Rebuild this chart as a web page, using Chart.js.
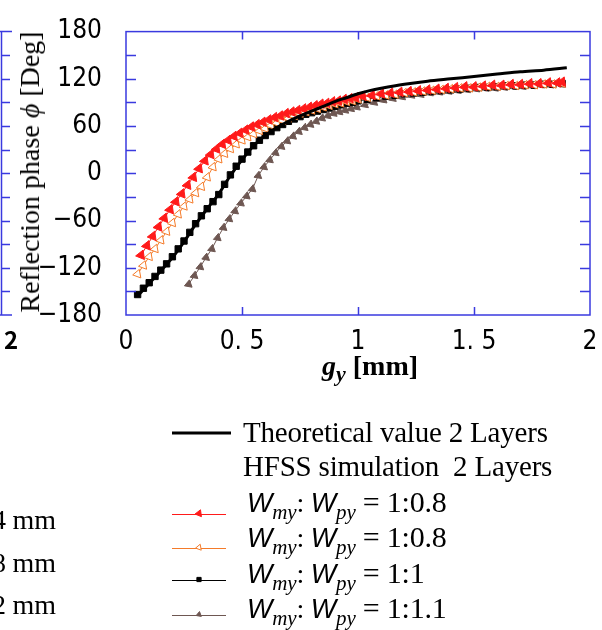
<!DOCTYPE html>
<html>
<head>
<meta charset="utf-8">
<script src="https://cdn.jsdelivr.net/npm/chart.js@4/dist/chart.umd.min.js"></script>
<style>
  body { margin: 0; width: 602px; height: 630px; position: relative; overflow: hidden; background: #fff; }
  #c { position: absolute; left: 0; top: 0; }
  .t { position: absolute; white-space: nowrap; font-family: "Liberation Serif", serif; color: #000; }
  .leg { font-size: 28px; line-height: 32px; letter-spacing: -0.2px; }
  .big { font-size: 29px; }
  .w { font-family: "Liberation Sans", sans-serif; font-style: italic; font-size: 27px; }
  .sb { font-style: italic; font-size: 21px; position: relative; top: 7px; }
  .eq { font-size: 30px; }
</style>
</head>
<body>
<canvas id="c" width="602" height="630"></canvas>

<div class="t" style="left:30px;top:172px;font-size:28px;transform:translate(-50%,-50%) rotate(-90deg);">Reflection phase <i>ϕ</i> [Deg]</div>
<div class="t" style="left:370px;top:366px;font-size:28px;font-weight:bold;transform:translate(-50%,-50%);"><i>g</i><span class="sb" style="font-weight:bold;top:6px;font-size:22px;">y</span> [mm]</div>

<div class="t leg big" style="left:243px;top:416px;">Theoretical value 2 Layers</div>
<div class="t leg big" style="left:243px;top:450px;">HFSS simulation&nbsp; 2 Layers</div>
<div class="t leg" style="left:247px;top:486px;"><span class="w">W</span><span class="sb">my</span>: <span class="w">W</span><span class="sb">py</span><span class="eq"> = 1:0.8</span></div>
<div class="t leg" style="left:247px;top:521px;"><span class="w">W</span><span class="sb">my</span>: <span class="w">W</span><span class="sb">py</span><span class="eq"> = 1:0.8</span></div>
<div class="t leg" style="left:247px;top:557px;"><span class="w">W</span><span class="sb">my</span>: <span class="w">W</span><span class="sb">py</span><span class="eq"> = 1:1</span></div>
<div class="t leg" style="left:247px;top:592px;"><span class="w">W</span><span class="sb">my</span>: <span class="w">W</span><span class="sb">py</span><span class="eq"> = 1:1.1</span></div>

<div class="t leg" style="left:-8px;top:504px;">4 mm</div>
<div class="t leg" style="left:-8px;top:547px;">8 mm</div>
<div class="t leg" style="left:-8px;top:589px;">2 mm</div>
<div class="t" style="left:4px;top:324px;font-family:'Noto Sans CJK JP',sans-serif;font-weight:bold;font-size:24px;line-height:30px;">2</div>

<script>
// theoretical value, 2 layers
const gyTheory = [0.05, 0.1, 0.15, 0.2, 0.25, 0.3, 0.35, 0.4, 0.45, 0.5, 0.55, 0.6, 0.65, 0.7, 0.75, 0.8, 0.85, 0.9, 0.95, 1.0, 1.05, 1.1, 1.2, 1.3, 1.4, 1.5, 1.6, 1.7, 1.8, 1.9];
const phaseTheory = [-156, -140, -124, -107, -87, -65, -45, -26, -3, 17, 35, 48, 58, 66, 73, 79, 85, 91, 96, 101, 105, 108, 113, 117, 120, 123, 126, 129, 131, 134];

// HFSS 1:0.8 (red, filled triangles)
const gyRed = [0.065, 0.09, 0.115, 0.14, 0.165, 0.19, 0.215, 0.24, 0.265, 0.29, 0.315, 0.34, 0.365, 0.39, 0.415, 0.44, 0.465, 0.49, 0.515, 0.54, 0.565, 0.59, 0.615, 0.64, 0.665, 0.69, 0.715, 0.74, 0.765, 0.79, 0.815, 0.84, 0.865, 0.89, 0.915, 0.94, 0.965, 0.99, 1.02, 1.06, 1.1, 1.14, 1.18, 1.22, 1.26, 1.3, 1.34, 1.38, 1.42, 1.46, 1.5, 1.54, 1.58, 1.62, 1.66, 1.7, 1.74, 1.78, 1.82, 1.86, 1.88];
const phaseRed = [-104, -92, -80, -68, -57, -46, -36, -26, -15, -5, 6, 16, 24, 31, 37, 42, 47, 51, 55, 59, 62, 65, 68, 71, 73, 76, 78, 80, 82, 84, 86, 88, 89, 91, 92, 94, 95, 96, 98, 99, 101, 102, 103, 104, 105, 106, 107, 108, 109, 110, 110, 111, 112, 112, 113, 113, 114, 114, 115, 115, 116];

// HFSS 1:0.8 (orange, open triangles)
const gyOrange = [0.05, 0.075, 0.1, 0.125, 0.15, 0.175, 0.2, 0.225, 0.25, 0.275, 0.3, 0.325, 0.35, 0.375, 0.4, 0.425, 0.45, 0.475, 0.5, 0.525, 0.55, 0.575, 0.6, 0.625, 0.65, 0.675, 0.7, 0.725, 0.75, 0.775, 0.8, 0.825, 0.85, 0.875, 0.9, 0.925, 0.95, 0.975, 1.0, 1.04, 1.08, 1.12, 1.16, 1.2, 1.24, 1.28, 1.32, 1.36, 1.4, 1.44, 1.48, 1.52, 1.56, 1.6, 1.64, 1.68, 1.72, 1.76, 1.8, 1.84, 1.88];
const phaseOrange = [-128, -117, -106, -96, -85, -74, -63, -52, -42, -33, -25, -17, -5, 8, 18, 25, 31, 37, 42, 46, 50, 54, 57, 61, 64, 67, 70, 73, 76, 78, 80, 82, 84, 86, 88, 89, 91, 92, 94, 96, 98, 99, 100, 102, 103, 104, 105, 106, 107, 108, 108, 109, 110, 110, 111, 111, 112, 112, 113, 113, 114];

// HFSS 1:1 (black squares)
const gyBlack = [0.05, 0.075, 0.1, 0.125, 0.15, 0.175, 0.2, 0.225, 0.25, 0.275, 0.3, 0.325, 0.35, 0.375, 0.4, 0.425, 0.45, 0.475, 0.5, 0.525, 0.55, 0.575, 0.6, 0.625, 0.65, 0.675, 0.7, 0.725, 0.75, 0.775, 0.8, 0.825, 0.85, 0.875, 0.9, 0.925, 0.95, 0.975, 1.0, 1.04, 1.08, 1.12, 1.16, 1.2, 1.24, 1.28, 1.32, 1.36, 1.4, 1.44, 1.48, 1.52, 1.56, 1.6, 1.64, 1.68, 1.72, 1.76, 1.8, 1.84, 1.88];
const phaseBlack = [-154, -146, -139, -131, -123, -115, -106, -96, -86, -75, -64, -54, -45, -36, -27, -14, -2, 9, 18, 27, 35, 42, 48, 53, 58, 62, 66, 69, 72, 75, 77, 79, 81, 83, 85, 87, 89, 90, 92, 94, 96, 98, 99, 101, 102, 103, 104, 105, 106, 107, 108, 109, 109, 110, 111, 111, 112, 112, 113, 113, 114];

// HFSS 1:1.1 (brown triangles)
const gyBrown = [0.27, 0.295, 0.32, 0.345, 0.37, 0.395, 0.42, 0.445, 0.47, 0.495, 0.52, 0.545, 0.57, 0.595, 0.62, 0.645, 0.67, 0.695, 0.72, 0.745, 0.77, 0.795, 0.82, 0.845, 0.87, 0.895, 0.92, 0.945, 0.97, 0.995, 1.03, 1.07, 1.11, 1.15, 1.19, 1.23, 1.27, 1.31, 1.35, 1.39, 1.43, 1.47, 1.51, 1.55, 1.59, 1.63, 1.67, 1.71, 1.75, 1.79, 1.83, 1.88];
const phaseBrown = [-141, -130, -119, -107, -96, -82, -69, -58, -48, -38, -29, -20, -3, 8, 17, 26, 34, 41, 47, 53, 58, 62, 66, 70, 73, 76, 78, 80, 82, 84, 87, 90, 93, 95, 97, 99, 100, 102, 103, 104, 105, 106, 107, 108, 108, 109, 110, 110, 111, 112, 112, 113];

const xTicks = [0, 0.5, 1, 1.5, 2];
const xTickLabels = ["0", "0. 5", "1", "1. 5", "2"];
const yTicks = [-180, -120, -60, 0, 60, 120, 180];
const yTickLabels = ["\u2212180", "\u2212120", "\u221260", "0", "60", "120", "180"];
const yMinorTicks = [-150, -120, -90, -60, -30, 0, 30, 60, 90, 120, 150];
const xMinorTicks = [0.5, 1, 1.5];

const AXIS_BLUE = "#3a3adf";
const tickFont = { family: "'DejaVu Sans Condensed', 'Noto Sans CJK JP', sans-serif", size: 26 };

const toPoints = (xs, ys) => xs.map((x, i) => ({ x: x, y: ys[i] }));

const datasets = [
  {
    label: "Theoretical value 2 Layers",
    data: toPoints(gyTheory, phaseTheory),
    borderColor: "#000", borderWidth: 3, pointRadius: 0, showLine: true, tension: 0.3,
  },
  {
    label: "1:0.8 red",
    data: toPoints(gyRed, phaseRed),
    borderColor: "#ff1a1a", backgroundColor: "#ff1a1a", borderWidth: 1, showLine: true,
    pointStyle: "triangle", pointRotation: 262, pointRadius: 5.5, pointBorderWidth: 1,
  },
  {
    label: "1:0.8 orange",
    data: toPoints(gyOrange, phaseOrange),
    borderColor: "#f47b2a", backgroundColor: "#fff", borderWidth: 1, showLine: true,
    pointStyle: "triangle", pointRotation: 20, pointRadius: 5, pointBorderWidth: 1,
  },
  {
    label: "1:1 black",
    data: toPoints(gyBlack, phaseBlack),
    borderColor: "#000", backgroundColor: "#000", borderWidth: 1, showLine: true,
    pointStyle: "rect", pointRadius: 4.5, pointBorderWidth: 1,
  },
  {
    label: "1:1.1 brown",
    data: toPoints(gyBrown, phaseBrown),
    borderColor: "#6e5752", backgroundColor: "#6e5752", borderWidth: 1, showLine: true,
    pointStyle: "triangle", pointRotation: 10, pointRadius: 4.5, pointBorderWidth: 1,
  },
];

// frame, inward ticks, the cut-off neighbour axis, and legend samples
const framePlugin = {
  id: "frame",
  afterDraw(chart) {
    const { ctx, chartArea: a, scales } = chart;
    const sx = scales.x, sy = scales.y;
    ctx.save();
    ctx.strokeStyle = AXIS_BLUE;
    ctx.lineWidth = 1.5;
    ctx.strokeRect(a.left, a.top, a.right - a.left, a.bottom - a.top);
    ctx.beginPath();
    yMinorTicks.forEach((v) => {
      const y = Math.round(sy.getPixelForValue(v)) + 0.5;
      ctx.moveTo(a.left, y); ctx.lineTo(a.left + 10, y);
      ctx.moveTo(a.right, y); ctx.lineTo(a.right - 10, y);
      // neighbouring figure's axis at the left edge
      ctx.moveTo(1, y); ctx.lineTo(10, y);
    });
    xMinorTicks.forEach((v) => {
      const x = Math.round(sx.getPixelForValue(v)) + 0.5;
      ctx.moveTo(x, a.bottom); ctx.lineTo(x, a.bottom - 8);
      ctx.moveTo(x, a.top); ctx.lineTo(x, a.top + 8);
    });
    ctx.moveTo(1.5, a.top); ctx.lineTo(1.5, a.bottom);
    ctx.moveTo(0, a.top); ctx.lineTo(12, a.top);
    ctx.moveTo(0, a.bottom); ctx.lineTo(12, a.bottom);
    ctx.stroke();

    // legend samples
    const rows = [433, 514, 548, 580, 615];
    const sets = [0, 1, 2, 3, 4];
    sets.forEach((di, r) => {
      const ds = chart.data.datasets[di];
      const y = di === 0 ? rows[r] : rows[r] + 0.5;
      ctx.strokeStyle = ds.borderColor;
      ctx.lineWidth = ds.borderWidth;
      ctx.beginPath();
      ctx.moveTo(172, y); ctx.lineTo(di === 0 ? 231 : 226, y);
      ctx.stroke();
      if (di > 0 && Chart.helpers && Chart.helpers.drawPoint) {
        ctx.fillStyle = ds.backgroundColor;
        ctx.lineWidth = 1;
        Chart.helpers.drawPoint(ctx, {
          pointStyle: ds.pointStyle, rotation: ds.pointRotation || 0,
          radius: ds.pointRadius - 1.5, borderWidth: 1,
        }, 199, y - 1);
      }
    });
    ctx.restore();
  },
};

new Chart(document.getElementById("c"), {
  type: "scatter",
  data: { datasets: datasets },
  options: {
    responsive: false,
    animation: false,
    layout: { padding: { left: 0, right: 12, top: 30, bottom: 260 } },
    plugins: { legend: { display: false }, tooltip: { enabled: false } },
    scales: {
      x: {
        type: "linear", min: 0, max: 2,
        afterBuildTicks: (s) => { s.ticks = xTicks.map((v) => ({ value: v })); },
        afterFit: (s) => { s.height = 55; },
        ticks: { callback: (v) => xTickLabels[xTicks.indexOf(v)], font: tickFont, color: "#000", padding: 4, maxRotation: 0, autoSkip: false },
        grid: { display: false },
        border: { display: false },
      },
      y: {
        type: "linear", min: -180, max: 180,
        afterBuildTicks: (s) => { s.ticks = yTicks.map((v) => ({ value: v })); },
        afterFit: (s) => { s.width = 126; },
        ticks: { callback: (v) => yTickLabels[yTicks.indexOf(v)], font: tickFont, color: "#000", padding: 16, autoSkip: false },
        grid: { display: false },
        border: { display: false },
      },
    },
  },
  plugins: [framePlugin],
});
</script>
</body>
</html>
